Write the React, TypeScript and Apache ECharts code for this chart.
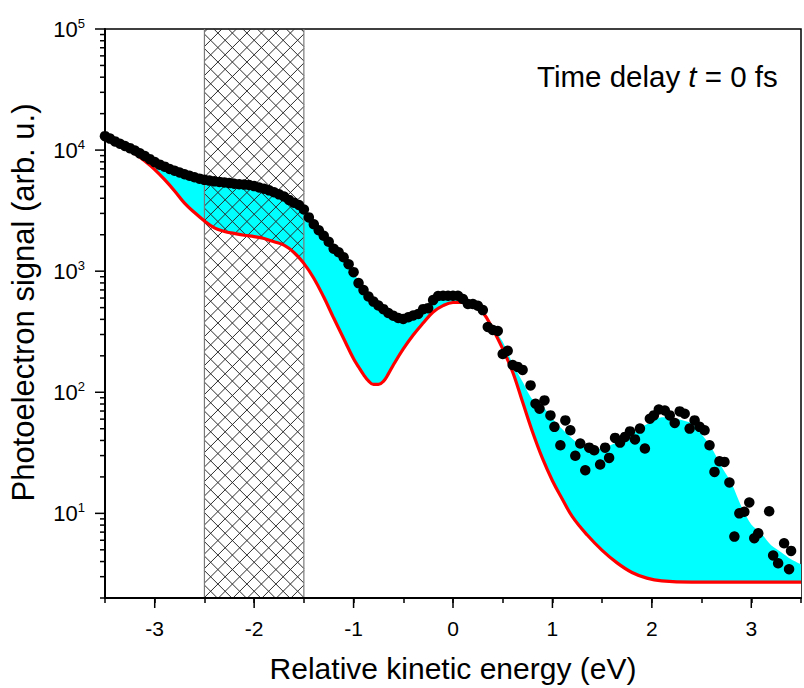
import React, { useEffect, useRef } from 'react';
import * as echarts from 'echarts';

// axis ranges
const xRange = [-3.5, 3.5];
const yRange = [2, 100000];

// energy grid for the cyan envelope (eV)
const edgeE = [
  -3.5, -3.4, -3.3, -3.2, -3.1, -3.0, -2.9, -2.8, -2.7, -2.6,
  -2.5, -2.4, -2.3, -2.2, -2.1, -2.0, -1.9, -1.8, -1.7, -1.6,
  -1.5, -1.4, -1.3, -1.2, -1.1, -1.0, -0.9, -0.8, -0.7, -0.6,
  -0.5, -0.4, -0.3, -0.2, -0.1, 0.0, 0.1, 0.2, 0.3, 0.4,
  0.5, 0.6, 0.7, 0.8, 0.9, 1.0, 1.1, 1.2, 1.3, 1.4,
  1.5, 1.6, 1.7, 1.8, 1.9, 2.0, 2.1, 2.2, 2.3, 2.4,
  2.5, 2.6, 2.7, 2.8, 2.9, 3.0, 3.1, 3.2, 3.3, 3.4, 3.5,
];

// upper edge of the cyan region (smoothed signal)
const signalEdge = [
  13030, 11800, 10820, 9930, 8930, 7960, 7300, 6760, 6320, 5960,
  5680, 5520, 5410, 5270, 5190, 5040, 4790, 4480, 4140, 3680,
  3236, 2438, 1960, 1532, 1303, 982, 698, 561, 486, 428,
  403, 431, 486, 577, 620, 620, 589, 555, 477, 350,
  261, 172, 122, 87, 76.7, 60.5, 49.6, 41.4, 35.9, 33.3,
  34.6, 37.0, 39.9, 44.7, 52.0, 56.6, 62.2, 61.1, 58.9, 55.1,
  45.1, 34.9, 24.4, 17.8, 11.4, 8.11, 6.84, 5.45, 4.78, 4.18, 3.8,
];

// red reference curve (eV, signal)
const redE = [
  -3.5, -3.4, -3.3, -3.2, -3.1, -3.0, -2.9, -2.8, -2.7, -2.6,
  -2.5, -2.4, -2.3, -2.2, -2.1, -2.0, -1.9, -1.8, -1.7, -1.6,
  -1.5, -1.4, -1.3, -1.2, -1.1, -1.0, -0.95, -0.9, -0.85, -0.8,
  -0.75, -0.7, -0.65, -0.6, -0.5, -0.4, -0.3, -0.2, -0.1, 0.0,
  0.1, 0.2, 0.3, 0.4, 0.5, 0.6, 0.7, 0.8, 0.9, 1.0,
  1.1, 1.2, 1.35, 1.5, 1.65, 1.8, 1.95, 2.1, 2.4, 2.7,
  3.0, 3.5,
];
const redCurve = [
  12680, 11460, 10420, 9330, 8110, 6900, 5700, 4600, 3650, 3050,
  2600, 2280, 2130, 2050, 1980, 1930, 1860, 1750, 1640, 1430,
  1160, 875, 611, 410, 278, 189, 162, 140, 124, 116,
  116, 123, 142, 168, 228, 297, 373, 460, 520, 551,
  552, 547, 458, 333, 228, 147, 83, 47, 28.4, 18.6,
  13.1, 9.4, 6.62, 4.95, 3.9, 3.25, 2.92, 2.77, 2.7, 2.7,
  2.7, 2.7,
];

// measured photoelectron signal (black dots)
const dotE = [
  -3.5, -3.45, -3.4, -3.35, -3.3, -3.25, -3.2, -3.15, -3.1, -3.05,
  -3.0, -2.95, -2.9, -2.85, -2.8, -2.75, -2.7, -2.65, -2.6, -2.55,
  -2.5, -2.45, -2.4, -2.35, -2.3, -2.25, -2.2, -2.15, -2.1, -2.05,
  -2.0, -1.95, -1.9, -1.85, -1.8, -1.75, -1.7, -1.65, -1.6, -1.55,
  -1.5, -1.45, -1.4, -1.35, -1.3, -1.25, -1.2, -1.15, -1.1, -1.05,
  -1.0, -0.95, -0.9, -0.85, -0.8, -0.75, -0.7, -0.65, -0.6, -0.55,
  -0.5, -0.45, -0.4, -0.35, -0.3, -0.25, -0.2, -0.15, -0.1, -0.05,
  0.0, 0.05, 0.1, 0.15, 0.2, 0.25,
  0.30, 0.35, 0.40, 0.45, 0.50, 0.55, 0.60, 0.65, 0.70, 0.78,
  0.83, 0.87, 0.92, 0.98, 1.02, 1.08, 1.13, 1.18, 1.23, 1.28,
  1.33, 1.37, 1.42, 1.48, 1.53, 1.57, 1.63, 1.68, 1.73, 1.78,
  1.83, 1.88, 1.93, 1.98, 2.02, 2.07, 2.13, 2.18, 2.23, 2.28,
  2.33, 2.38, 2.43, 2.48, 2.53, 2.58, 2.63, 2.68, 2.73, 2.78,
  2.83, 2.88, 2.93, 2.98, 3.03, 3.07, 3.18, 3.22, 3.27, 3.33,
  3.38, 3.40,
];
const dotV = [
  13030, 12440, 11800, 11290, 10820, 10380, 9930, 9400, 8930, 8420,
  7960, 7580, 7300, 6980, 6760, 6540, 6320, 6130, 5960, 5810,
  5680, 5600, 5520, 5460, 5410, 5340, 5270, 5230, 5190, 5150,
  5040, 4910, 4790, 4650, 4480, 4310, 4140, 3880, 3680, 3520,
  3236, 2780, 2438, 2175, 1960, 1750, 1532, 1432, 1303, 1142,
  982, 797, 698, 617, 561, 520, 486, 451, 428, 410,
  403, 416, 431, 443, 486, 495, 577, 623, 627, 627,
  627, 627, 589, 535, 535, 518,
  477, 346, 327, 321, 207, 220, 168, 162, 153, 114,
  80.4, 73.1, 85.7, 64.4, 51.8, 36.5, 58.6, 48.5, 29.9, 37.7,
  22.7, 34.9, 33.2, 25.3, 34.9, 28.7, 42.0, 38.4, 42.8, 47.5,
  40.8, 50.1, 34.3, 60.5, 64.4, 72.1, 70.8, 64.4, 55.8, 69.5,
  66.5, 50.1, 58.6, 51.8, 48.5, 36.5, 22.0, 26.9, 26.6, 18.0,
  6.43, 10.0, 10.3, 12.3, 6.23, 6.84, 10.4, 4.49, 3.87, 5.66,
  3.46, 4.90,
];

// hatched energy window (eV)
const hatchBand = [-2.5, -1.5];

// tick positions
const xMajorTicks = [-3, -2, -1, 0, 1, 2, 3];
const yTickValues = [
  2, 3, 4, 5, 6, 7, 8, 9,
  10, 20, 30, 40, 50, 60, 70, 80, 90,
  100, 200, 300, 400, 500, 600, 700, 800, 900,
  1000, 2000, 3000, 4000, 5000, 6000, 7000, 8000, 9000,
  10000, 20000, 30000, 40000, 50000, 60000, 70000, 80000, 90000,
  100000,
];

const FONT = '"Liberation Sans", Arial, sans-serif';

function isPow10(v: number) {
  const lg = Math.log10(v);
  return Math.abs(lg - Math.round(lg)) < 1e-6;
}

export default function App() {
  const ref = useRef<HTMLDivElement>(null);

  useEffect(() => {
    if (!ref.current) return;
    const chart = echarts.init(ref.current, null, { renderer: 'svg' });

    const redData = redE.map((e, i) => [e, redCurve[i]]);
    const edgeData = edgeE.map((e, i) => [e, signalEdge[i]]);
    const dots = dotE.map((e, i) => [e, dotV[i]]);

    const option: any = {
      animation: false,
      backgroundColor: '#fff',
      grid: {
        left: 101,
        top: 29,
        right: -8,
        bottom: 88,
        show: true,
        borderColor: '#000',
        borderWidth: 1.5,
        backgroundColor: 'transparent',
      },
      xAxis: {
        type: 'value',
        min: xRange[0],
        max: xRange[1],
        interval: 0.5,
        z: 10,
        name: 'Relative kinetic energy (eV)',
        nameLocation: 'middle',
        nameGap: 55,
        nameTextStyle: { fontFamily: FONT, fontSize: 30, color: '#000' },
        axisLine: { show: true, onZero: false, lineStyle: { color: '#000', width: 2 } },
        axisTick: { show: true, length: 5, lineStyle: { color: '#000', width: 1.5 } },
        splitLine: { show: false },
        axisLabel: {
          margin: 20,
          fontFamily: FONT,
          fontSize: 21,
          color: '#000',
          formatter: (v: number) => (Math.abs(v - Math.round(v)) < 1e-9 ? String(Math.round(v)) : ''),
        },
      },
      yAxis: {
        type: 'log',
        logBase: 10,
        min: yRange[0],
        max: yRange[1],
        z: 10,
        name: 'Photoelectron signal (arb. u.)',
        nameLocation: 'middle',
        nameGap: 66,
        nameTextStyle: { fontFamily: FONT, fontSize: 31, color: '#000', padding: [0, 0, 0, 22] },
        axisLine: { show: true, onZero: false, lineStyle: { color: '#000', width: 2 } },
        axisTick: { show: false },
        splitLine: { show: false },
        axisLabel: {
          margin: 20,
          color: '#000',
          formatter: (v: number) => {
            if (!isPow10(v)) return '';
            return '{b|10}{e|' + Math.round(Math.log10(v)) + '}';
          },
          rich: {
            b: { fontFamily: FONT, fontSize: 22, color: '#000', lineHeight: 24 },
            e: { fontFamily: FONT, fontSize: 13, color: '#000', verticalAlign: 'top', lineHeight: 14, padding: [0, 0, 12, 0] },
          },
        },
      },
      graphic: [
        {
          type: 'text',
          left: 537,
          top: 61,
          z: 100,
          style: {
            text: '{a|Time delay }{i|t}{a| = 0 fs}',
            rich: {
              a: { fontFamily: FONT, fontSize: 29.5, fill: '#000' },
              i: { fontFamily: FONT, fontSize: 29.5, fontStyle: 'italic', fill: '#000' },
            },
          },
        },
      ],
      series: [
        {
          name: 'signal envelope',
          type: 'line',
          data: edgeData,
          smooth: 0.3,
          showSymbol: false,
          symbol: 'none',
          lineStyle: { width: 0, opacity: 0 },
          areaStyle: { color: '#00ffff', opacity: 1, origin: 'start' },
          z: 1,
        },
        {
          name: 'below reference',
          type: 'line',
          data: redData,
          smooth: 0.4,
          showSymbol: false,
          symbol: 'none',
          lineStyle: { width: 0, opacity: 0 },
          areaStyle: { color: '#ffffff', opacity: 1, origin: 'start' },
          z: 2,
        },
        {
          name: 'hatch',
          type: 'custom',
          silent: true,
          z: 3,
          clip: false,
          dimensions: ['x1', 'y1', 'x2', 'y2'],
          encode: { x: [0, 2], y: [1, 3] },
          data: [[hatchBand[0], yRange[1], hatchBand[1], yRange[0]]],
          renderItem: (params: any, api: any) => {
            const p1 = api.coord([api.value(0), api.value(1)]);
            const p2 = api.coord([api.value(2), api.value(3)]);
            const L = p1[0], T = p1[1], R = p2[0], B = p2[1];
            const s = 14.5;
            const children: any[] = [];
            const st = { stroke: '#2b2b2b', lineWidth: 1 };
            for (let c = T - R + 3; c <= B - L; c += s) {
              const xa = Math.max(L, T - c);
              const xb = Math.min(R, B - c);
              if (xb > xa) children.push({ type: 'line', shape: { x1: xa, y1: xa + c, x2: xb, y2: xb + c }, style: st });
            }
            for (let c = T + L + 3; c <= B + R; c += s) {
              const xa = Math.max(L, c - B);
              const xb = Math.min(R, c - T);
              if (xb > xa) children.push({ type: 'line', shape: { x1: xa, y1: c - xa, x2: xb, y2: c - xb }, style: st });
            }
            const edge = { stroke: '#7a7a7a', lineWidth: 1.2 };
            children.push({ type: 'line', shape: { x1: L, y1: T, x2: L, y2: B }, style: edge });
            children.push({ type: 'line', shape: { x1: R, y1: T, x2: R, y2: B }, style: edge });
            return { type: 'group', children };
          },
        },
        {
          name: 'reference',
          type: 'line',
          data: redData,
          smooth: 0.4,
          showSymbol: false,
          symbol: 'none',
          lineStyle: { color: '#ff0000', width: 3.2 },
          z: 5,
        },
        {
          name: 'data',
          type: 'scatter',
          data: dots,
          symbol: 'circle',
          symbolSize: 10.5,
          itemStyle: { color: '#000', opacity: 1 },
          z: 6,
        },
        {
          name: 'yticks',
          type: 'custom',
          silent: true,
          clip: false,
          z: 10,
          data: yTickValues.map((v) => [xRange[0], v]),
          renderItem: (params: any, api: any) => {
            const v = api.value(1);
            const p = api.coord([api.value(0), v]);
            const len = isPow10(v) ? 10 : 5;
            return {
              type: 'line',
              shape: { x1: p[0] - len, y1: p[1], x2: p[0], y2: p[1] },
              style: { stroke: '#000', lineWidth: 1.5 },
            };
          },
        },
        {
          name: 'xticks',
          type: 'custom',
          silent: true,
          clip: false,
          z: 10,
          data: xMajorTicks.map((v) => [v, yRange[0]]),
          renderItem: (params: any, api: any) => {
            const p = api.coord([api.value(0), api.value(1)]);
            return {
              type: 'line',
              shape: { x1: p[0], y1: p[1], x2: p[0], y2: p[1] + 10 },
              style: { stroke: '#000', lineWidth: 1.5 },
            };
          },
        },
      ],
    };

    chart.setOption(option);
    return () => chart.dispose();
  }, []);

  return (
    <div
      ref={ref}
      style={{ position: 'fixed', left: 0, top: 0, width: 804, height: 688, background: '#fff' }}
    />
  );
}
